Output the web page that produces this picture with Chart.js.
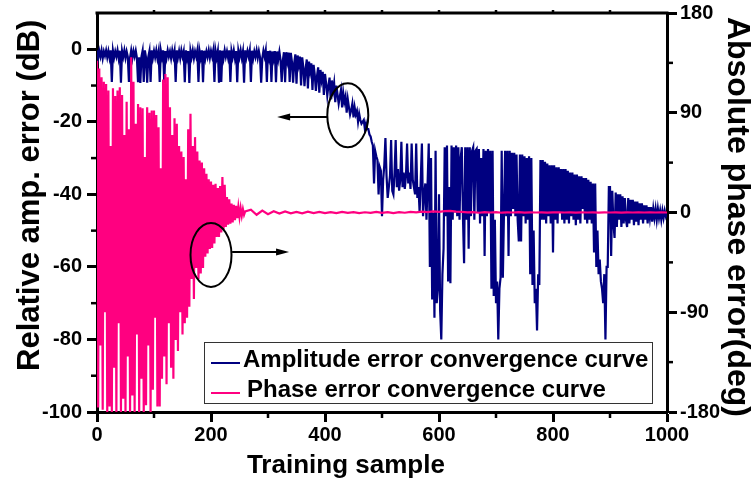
<!DOCTYPE html>
<html>
<head>
<meta charset="utf-8">
<script src="https://cdn.jsdelivr.net/npm/chart.js@4.4.1/dist/chart.umd.min.js"></script>
<style>
  html, body { margin: 0; padding: 0; background: #fff; }
</style>
</head>
<body>
<canvas id="convChart" width="753" height="485"></canvas>
<script>
// amplitude error (dB), one value every 2 training samples (0..1000)
const AMP_STEP = 2;
const ampError = [
  -0.3, -2.4, -0.5, -2, -0.3, -2.5, -0.6, -1.8, -0.3, -2.2,
  -0.5, -2.4, -0.3, -9, -0.4, -2.3, -0.6, -2, -0.3, -2.5,
  -0.4, -9.2, -0.5, -2.1, -0.3, -2.4, -0.6, -2, -9, -2.3,
  -0.3, -2.5, -0.5, -2, -0.4, -2.4, -9.1, -2.2, -9.3, -2,
  -0.4, -9, -0.3, -2.3, -9.2, -2.1, -0.5, -9, -0.3, -2.4,
  -0.5, -2.2, -0.3, -2.5, -0.6, -9, -0.4, -2.2, -0.3, -9.2,
  -0.5, -2.4, -0.3, -2, -0.6, -2.5, -0.3, -2.1, -0.4, -9,
  -0.3, -2.3, -0.5, -2.5, -0.3, -2, -0.6, -9.1, -0.3, -2.4,
  -0.5, -9.3, -0.4, -2.2, -0.3, -2.5, -0.6, -2, -0.3, -9,
  -0.5, -2.3, -0.3, -9.1, -0.4, -2.5, -0.6, -2.1, -0.3, -2.4,
  -0.5, -2, -0.3, -9, -0.4, -2.3, -0.5, -9.2, -0.3, -9,
  -0.4, -2.5, -0.3, -2.1, -0.6, -2.4, -0.3, -9, -0.5, -2.2,
  -0.3, -2.5, -0.5, -9.1, -0.4, -2.2, -0.3, -2.4, -0.6, -9.2,
  -0.3, -2.3, -0.5, -2, -0.3, -9, -0.4, -2.5, -0.6, -2.1,
  -0.3, -2.4, -0.5, -2.2, -9.2, -2.5, -0.4, -2, -0.3, -9,
  -0.5, -2.5, -0.4, -9, -0.6, -2.6, -0.5, -9.1, -0.6, -2.8,
  -0.7, -3, -9, -3.1, -0.8, -9.1, -0.8, -3.2, -0.9, -9,
  -1, -3.5, -9.2, -3.8, -1.4, -9.5, -1.7, -4.2, -2, -10,
  -2.2, -5, -10.2, -5.4, -2.8, -10.8, -3.4, -6, -3.9, -11.2,
  -4.3, -7, -11.5, -7.4, -5, -12, -5.7, -8.4, -6.2, -12.6,
  -6.8, -9.5, -12.8, -10, -7.8, -13.8, -8.6, -11.5, -9.3, -14.6,
  -10, -12.5, -15, -13, -11.2, -16, -12, -14.5, -13, -17.5,
  -13.8, -16, -18, -16.8, -15, -18.8, -16, -18, -17, -20,
  -17.8, -19.5, -20.5, -20, -19.5, -22, -20.5, -22, -22, -23.5,
  -24, -25.5, -26.5, -37, -28, -29.5, -30.5, -40, -32.5, -33.5,
  -46, -36, -32, -24.5, -35, -41, -38, -35, -25, -39,
  -40, -34, -25, -38, -33, -39, -36, -25.5, -38, -34,
  -38.5, -35, -26, -37, -34, -38.5, -26, -36, -38, -40,
  -26, -41, -38, -45, -36, -26, -46, -40, -37, -47,
  -37, -26, -60, -30, -69, -45, -74, -28, -70, -66,
  -40, -72, -80, -62, -55, -27, -46, -26.5, -64, -38,
  -64.5, -26.5, -47, -27, -45, -26.5, -46, -27, -47, -30,
  -27, -46, -59, -27, -47, -27, -55, -27, -46, -28,
  -27, -47, -28, -27.5, -45, -27.5, -48, -30, -46, -27.5,
  -57, -28, -46, -27.5, -45, -28, -66, -28, -68, -47,
  -70, -64, -80, -66, -63, -28, -63, -45, -28, -46,
  -28, -57, -28, -46, -28.5, -44, -28.5, -46, -29, -47,
  -53, -29, -53, -29, -46, -29.5, -48, -30, -47, -29.5,
  -62, -30, -65, -50, -70, -66, -77.5, -62, -65, -30.5,
  -47, -30.5, -47, -31, -48, -31.5, -46, -32, -48, -32,
  -56, -32, -47, -32.5, -48, -32.5, -45, -33, -47, -33,
  -48, -33, -47, -33.5, -48, -34, -46, -34, -47, -34.5,
  -48.5, -34.5, -47, -35, -48, -35, -44, -35.5, -47, -35.5,
  -48, -36, -47, -36.5, -48, -37, -56, -37, -60, -50,
  -62, -58, -64, -66, -70, -62, -80, -60, -60, -38,
  -38, -57, -39, -48, -52, -39.5, -49, -40, -47, -40,
  -49, -40.5, -48, -41, -47, -49, -41, -48, -41.5, -47,
  -41.5, -48.5, -42, -47.5, -42, -48.5, -42.5, -47, -42.5, -48,
  -43, -47, -43, -48, -43.5, -46.5, -43.5, -47.5, -44, -46.5,
  -44, -47, -44, -46.5, -44.5, -47, -44.5, -46.5, -44.5, -46,
  -45
];

// phase error (deg), every 2 samples for 0..260, then every 10 samples
const PHASE_HEAD_STEP = 2;
const phaseHead = [
  137, -176, 130, -120, 122, -178, 118, -90, 116, -180,
  110, -175, 60, -180, 112, -140, 105, -180, 110, -100,
  113, -180, 106, -168, 70, -180, 100, -130, 75, -180,
  140, -165, 118, -180, 80, -110, 98, -180, 95, -150,
  94, -180, 50, -174, 95, -120, 90, -180, 92, -160,
  92, -95, 88, -175, 77, -175, 40, -150, 120, -130,
  125, -155, 122, -100, 95, -140, 70, -150, 85, -115,
  80, -125, 60, -90, 55, -110, 50, -100, 30, -95,
  75, -85, 89, -60, 60, -78, 68, -50, 55, -60,
  47, -55, 45, -50, 40, -40, 35, -37, 30, -33,
  28, -32, 25, -28, 26, -22, 22, -22, 24, -18,
  32, -15, 25, -13, 14, -11, 12, -10, 8, -9,
  7, -7, 6, -5, 5, -4, 4, -3, 3, -2,
  1
];
const PHASE_TAIL_START = 270;
const PHASE_TAIL_STEP = 10;
const phaseTail = [
  2.5, -2, 1.8, -1.5, 1.2, -1, 1, -0.8, 0.6, -0.7,
  0.8, -0.5, 0.5, -0.6, 0.4, -0.5, 0.6, -0.3, 0.3, -0.6,
  0.2, -0.4, 0.5, -0.3, 0.4, -0.5, 0.3, -0.2, 0.6, 0.2,
  0.8, 0.4, 1, 0.6, 1.2, 1.5, 0.8, 0.5, 0.2, 0.4,
  -0.2, 0.3, 0, 0.3, -0.2, 0.2, 0, 0.3, -0.1, 0.2,
  0, 0.2, -0.1, 0.1, 0.2, 0, 0.1, -0.1, 0.2, 0,
  0.1, -0.1, 0.1, 0, 0.1, -0.1, 0.1, 0, 0.1, 0,
  0.1, 0, 0.1, 0
];

// tick labels
const xTickLabels = [0, 200, 400, 600, 800, 1000];
const ampTickLabels = [-100, -80, -60, -40, -20, 0];
const phaseTickLabels = [-180, -90, 0, 90, 180];

// circled regions + arrows (training sample, dB)
const circleX = [440, 200];
const circleY = [-18.2, -56.7];
const arrowFromX = [405, 237];
const arrowToX = [316, 337];
const arrowY = [-18.7, -55.9];

const legendLabels = ["Amplitude error convergence curve", "Phase error convergence curve"];
const NAVY = "#000080";
const PINK = "#FF0080";
const FONT_FAMILY = '"Liberation Sans", Arial, sans-serif';

const ampPoints = ampError.map((v, i) => ({ x: i * AMP_STEP, y: v }));
const phasePoints = phaseHead
  .map((v, i) => ({ x: i * PHASE_HEAD_STEP, y: v }))
  .concat(phaseTail.map((v, i) => ({ x: PHASE_TAIL_START + i * PHASE_TAIL_STEP, y: v })));

const tickFont = { family: FONT_FAMILY, size: 20, weight: "bold" };

function majorTickColor(list) {
  return (ctx) => (ctx.tick && list.includes(ctx.tick.value) ? "#000" : "rgba(0,0,0,0)");
}

// frame top line, minor ticks, circles, arrows and legend box
const extrasPlugin = {
  id: "extras",
  afterDatasetsDraw(chart) {
    const { ctx, chartArea: ca, scales } = chart;
    ctx.save();
    ctx.strokeStyle = "#000";
    ctx.lineCap = "butt";

    // top frame
    ctx.lineWidth = 3;
    ctx.beginPath();
    ctx.moveTo(ca.left - 1.5, ca.top);
    ctx.lineTo(ca.right + 1.5, ca.top);
    ctx.stroke();

    // minor ticks
    ctx.lineWidth = 2.5;
    scales.x.ticks.forEach((t) => {
      const px = scales.x.getPixelForValue(t.value);
      ctx.beginPath();
      if (!xTickLabels.includes(t.value)) {
        ctx.moveTo(px, ca.bottom);
        ctx.lineTo(px, ca.bottom + 6);
      }
      if (t.value > 0 && t.value < 1000) {
        ctx.moveTo(px, ca.top);
        ctx.lineTo(px, ca.top - 3);
      }
      ctx.stroke();
    });
    scales.y.ticks.forEach((t) => {
      if (ampTickLabels.includes(t.value) || t.value > 0) return;
      const py = scales.y.getPixelForValue(t.value);
      ctx.beginPath();
      ctx.moveTo(ca.left, py);
      ctx.lineTo(ca.left - 6, py);
      ctx.stroke();
    });
    scales.y2.ticks.forEach((t) => {
      if (phaseTickLabels.includes(t.value)) return;
      const py = scales.y2.getPixelForValue(t.value);
      ctx.beginPath();
      ctx.moveTo(ca.right, py);
      ctx.lineTo(ca.right + 6, py);
      ctx.stroke();
    });

    // circles and arrows
    ctx.lineWidth = 2;
    circleX.forEach((cx, i) => {
      const px = scales.x.getPixelForValue(cx);
      const py = scales.y.getPixelForValue(circleY[i]);
      ctx.beginPath();
      ctx.ellipse(px, py, 20.5, 32, 0, 0, Math.PI * 2);
      ctx.stroke();

      const x0 = scales.x.getPixelForValue(arrowFromX[i]);
      const x1 = scales.x.getPixelForValue(arrowToX[i]);
      const ay = scales.y.getPixelForValue(arrowY[i]);
      const dir = Math.sign(x1 - x0);
      ctx.beginPath();
      ctx.moveTo(x0, ay);
      ctx.lineTo(x1 - dir * 10, ay);
      ctx.stroke();
      ctx.fillStyle = "#000";
      ctx.beginPath();
      ctx.moveTo(x1, ay);
      ctx.lineTo(x1 - dir * 13, ay - 3.5);
      ctx.lineTo(x1 - dir * 13, ay + 3.5);
      ctx.closePath();
      ctx.fill();
    });

    // legend box
    const bx = ca.left + 107, by = ca.bottom - 70;
    const bw = ca.right - 15 - bx, bh = 61;
    ctx.fillStyle = "#fff";
    ctx.fillRect(bx, by, bw, bh);
    ctx.lineWidth = 1;
    ctx.strokeStyle = "#333";
    ctx.strokeRect(bx + 0.5, by + 0.5, bw, bh);
    const colors = [NAVY, PINK];
    const rowY = [by + 18, by + 48];
    legendLabels.forEach((label, i) => {
      ctx.strokeStyle = colors[i];
      ctx.lineWidth = 2;
      ctx.beginPath();
      ctx.moveTo(bx + 7, rowY[i] + 3);
      ctx.lineTo(bx + 36, rowY[i] + 3);
      ctx.stroke();
      ctx.fillStyle = "#000";
      ctx.font = "bold 24px " + FONT_FAMILY;
      ctx.textBaseline = "middle";
      ctx.textAlign = "left";
      ctx.fillText(label, bx + 39 + (i === 1 ? 4 : 0), rowY[i]);
    });
    ctx.restore();
  },
};

function noPadY(s, w) {
  s.width = w;
  s.paddingTop = 0;
  s.paddingBottom = 0;
}

const convCtx = document.getElementById("convChart").getContext("2d");

const convChart = new Chart(convCtx, {
  type: "line",
  data: {
    datasets: [
      {
        label: legendLabels[0],
        data: ampPoints,
        yAxisID: "y",
        borderColor: NAVY,
        borderWidth: 2.2,
        pointRadius: 0,
        tension: 0,
        order: 2,
      },
      {
        label: legendLabels[1],
        data: phasePoints,
        yAxisID: "y2",
        borderColor: PINK,
        borderWidth: 2.2,
        pointRadius: 0,
        tension: 0,
        order: 1,
      },
    ],
  },
  options: {
    responsive: false,
    animation: false,
    devicePixelRatio: 1,
    layout: { padding: { top: 13, left: 0, right: 0, bottom: 0 } },
    plugins: { legend: { display: false }, tooltip: { enabled: false } },
    scales: {
      x: {
        type: "linear",
        position: "bottom",
        min: 0,
        max: 1000,
        afterFit: (s) => {
          s.height = 73;
          s.paddingLeft = 0;
          s.paddingRight = 0;
        },
        ticks: {
          stepSize: 100,
          autoSkip: false,
          maxRotation: 0,
          color: "#000",
          font: tickFont,
          padding: 1,
          callback: (v) => (xTickLabels.includes(v) ? String(v) : ""),
        },
        grid: {
          drawOnChartArea: false,
          drawTicks: true,
          tickLength: 10,
          tickWidth: 3,
          tickColor: majorTickColor(xTickLabels),
        },
        border: { display: true, color: "#000", width: 3 },
        title: {
          display: true,
          text: "Training sample          ",
          color: "#000",
          font: { family: FONT_FAMILY, size: 26, weight: "bold", lineHeight: 1 },
          padding: { top: 0, bottom: 6 },
        },
      },
      y: {
        type: "linear",
        position: "left",
        min: -100,
        max: 10,
        afterFit: (s) => noPadY(s, 97),
        ticks: {
          stepSize: 10,
          autoSkip: false,
          color: "#000",
          font: tickFont,
          padding: 5,
          callback: (v) => (ampTickLabels.includes(v) ? String(v) : ""),
        },
        grid: {
          drawOnChartArea: false,
          drawTicks: true,
          tickLength: 10,
          tickWidth: 3,
          tickColor: majorTickColor(ampTickLabels),
        },
        border: { display: true, color: "#000", width: 3 },
        title: {
          display: true,
          text: "    Relative amp. error (dB)",
          color: "#000",
          font: { family: FONT_FAMILY, size: 31, weight: "bold", lineHeight: 1 },
          padding: { top: 15, bottom: 0 },
        },
      },
      y2: {
        type: "linear",
        position: "right",
        min: -180,
        max: 180,
        afterFit: (s) => noPadY(s, 86),
        ticks: {
          stepSize: 45,
          autoSkip: false,
          color: "#000",
          font: tickFont,
          padding: 3,
          callback: (v) => (phaseTickLabels.includes(v) ? String(v) : ""),
        },
        grid: {
          drawOnChartArea: false,
          drawTicks: true,
          tickLength: 10,
          tickWidth: 3,
          tickColor: majorTickColor(phaseTickLabels),
        },
        border: { display: true, color: "#000", width: 3 },
        title: {
          display: true,
          text: " Absolute phase error(deg)",
          color: "#000",
          font: { family: FONT_FAMILY, size: 32, weight: "bold", lineHeight: 1 },
          padding: { top: 0, bottom: 0 },
        },
      },
    },
  },
  plugins: [extrasPlugin],
});
</script>
</body>
</html>
